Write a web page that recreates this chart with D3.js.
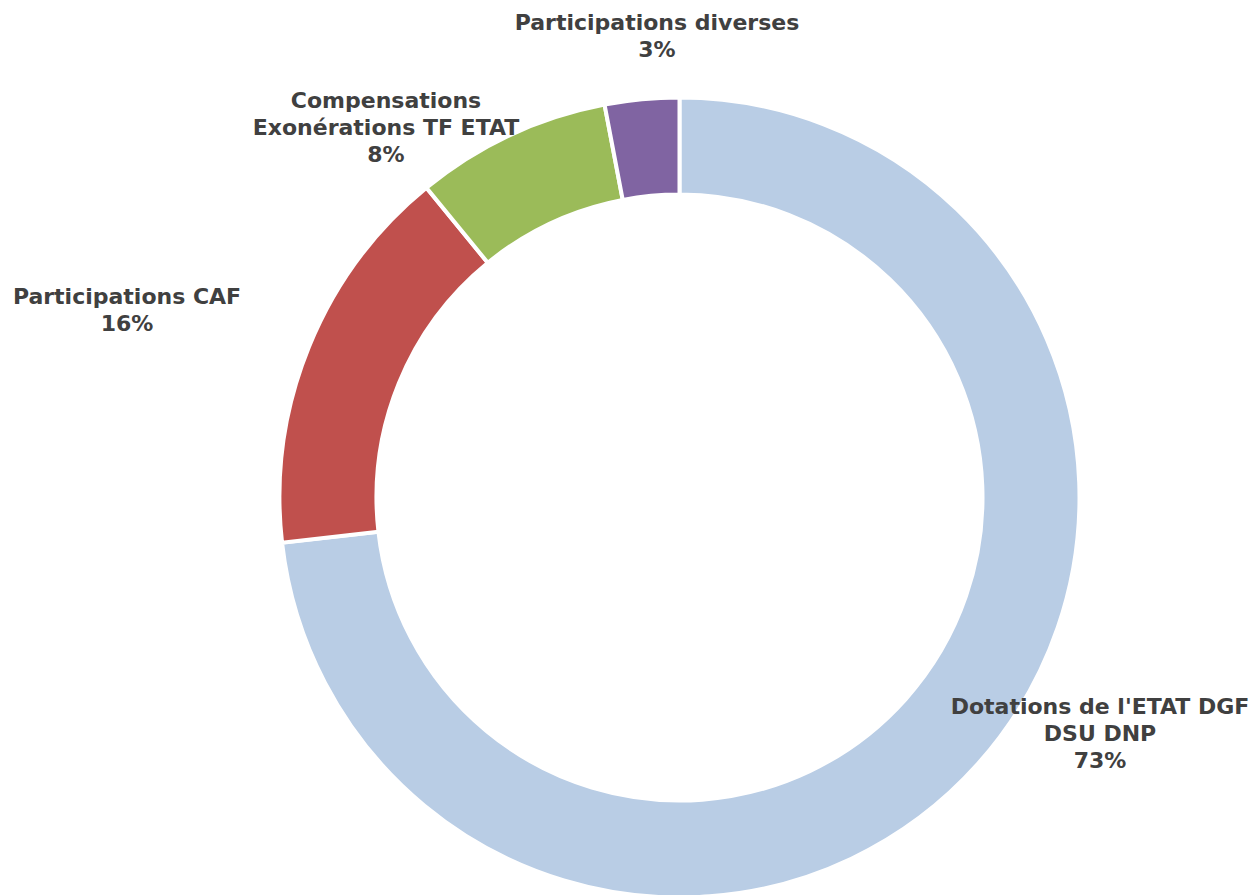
<!DOCTYPE html>
<html>
<head>
<meta charset="utf-8">
<script src="https://cdn.jsdelivr.net/npm/d3@7"></script>
<style>
html,body{margin:0;padding:0;background:#fff;}
svg{display:block;}
</style>
</head>
<body>
<svg id="chart" width="1257" height="895"></svg>
<script>
const categories = ["Dotations de l'ETAT DGF DSU DNP", "Participations CAF", "Compensations Exonérations TF ETAT", "Participations diverses"];
const values = [73.2, 15.9, 7.9, 3.0];
const labelLines = [["Dotations de l'ETAT DGF", "DSU DNP"], ["Participations CAF"], ["Compensations", "Exonérations TF ETAT"], ["Participations diverses"]];
const percentLabels = ["73%", "16%", "8%", "3%"];
const colors = ["#B9CDE5", "#C0504D", "#9BBB59", "#8064A2"];

// layout (not data)
const cx = 679.5, cy = 497.5, rOuter = 400, rInner = 303;
const labelPos = [[1100, 714], [127, 304], [386, 108], [657, 30]];

const svg = d3.select("#chart");
const g = svg.append("g").attr("transform", `translate(${cx},${cy})`);

const pie = d3.pie().sort(null).value(d => d)(values);
const arc = d3.arc().innerRadius(rInner).outerRadius(rOuter);
const color = d3.scaleOrdinal().domain(categories).range(colors);

g.selectAll("path").data(pie).enter().append("path")
  .attr("d", arc)
  .attr("fill", (d, i) => color(categories[i]))
  .attr("stroke", "#fff")
  .attr("stroke-width", 4)
  .attr("stroke-linejoin", "miter");

const lab = svg.append("g")
  .attr("font-family", "'DejaVu Sans', Verdana, sans-serif")
  .attr("font-weight", "bold")
  .attr("font-size", "22px")
  .attr("fill", "#404040")
  .attr("text-anchor", "middle");

categories.forEach((c, i) => {
  const t = lab.append("text").attr("x", labelPos[i][0]).attr("y", labelPos[i][1]);
  const lines = labelLines[i].concat([percentLabels[i]]);
  lines.forEach((l, j) => {
    t.append("tspan").attr("x", labelPos[i][0]).attr("dy", j === 0 ? 0 : 27).text(l);
  });
});
</script>
</body>
</html>
